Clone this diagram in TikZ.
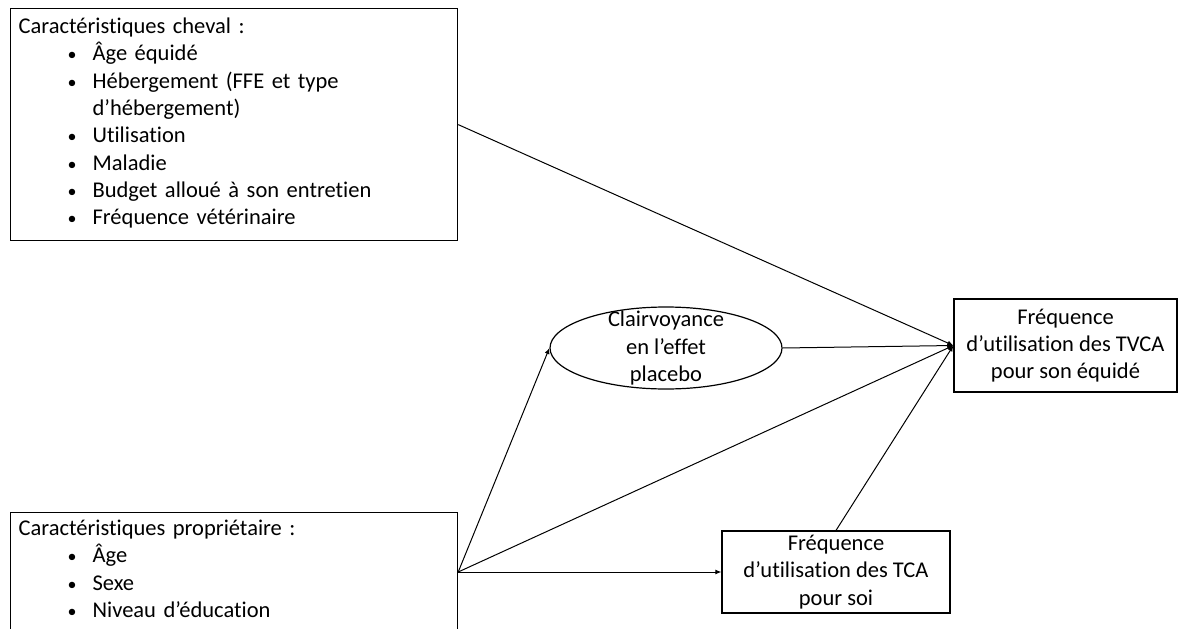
\documentclass[tikz,border=0pt]{standalone}
\usepackage{fontspec}
\setmainfont{Carlito}[Ligatures=NoCommon]
\usepackage{tikz}
\usetikzlibrary{arrows.meta,positioning,shapes.geometric,calc}
\newcommand{\puce}[1]{\\\hspace*{49pt}\makebox[25pt][l]{\scalebox{0.8}{\textbullet}}#1}
\newcommand{\suite}[1]{\\\hspace*{74pt}#1}

\begin{document}
\begin{tikzpicture}[x=1pt,y=-1pt,font=\fontsize{22.5}{27.3}\selectfont]
  \tikzset{liste/.style={draw,line width=1.2pt,anchor=north west,text width=431pt,align=left,inner xsep=8pt,inner ysep=0pt},
    boite/.style={draw,line width=1.2pt,align=center,inner sep=0pt},
    lien/.style={line width=1pt,-{Latex[length=6pt,width=5pt]}}}
  \useasboundingbox (0,0) rectangle (1178,629);
  \node[liste,text height=25pt,text depth=207pt] (cheval) at (10,8) {Caractéristiques cheval :\puce{Âge équidé}\puce{Hébergement (FFE et type}\suite{d’hébergement)}
    \puce{Utilisation}\puce{Maladie}\puce{Budget alloué à son entretien}\puce{Fréquence vétérinaire}};
  \node[liste,text height=23pt,text depth=130pt] (prop) at (10,512) {Caractéristiques propriétaire :\puce{Âge}\puce{Sexe}\puce{Niveau d’éducation}};
  \node[boite,minimum width=223pt,minimum height=93pt] (tvca) at (1065.5,345.5) {Fréquence\\d’utilisation des TVCA\\pour son équidé};
  \node[boite,minimum width=228pt,minimum height=82pt] (tca) at (836,572) {Fréquence\\d’utilisation des TCA\\pour soi};
  \node[draw,ellipse,line width=1.2pt,minimum width=232pt,minimum height=82pt] (clair) at (666,348) {};
  \node[align=center,inner sep=0pt] (claitxt) at (clair.center) {Clairvoyance\\en l’effet\\placebo};
  \coordinate (src) at (prop.east |- tca.west);
  \draw[lien] (cheval.east) -- (tvca.west);
  \draw[lien] (clair.east) -- (tvca.west);
  \draw[lien] (tca.north) -- (tvca.west);
  \draw[lien] (src) -- (tvca.west);
  \draw[lien] (src) -- (clair.west);
  \draw[lien] (src) -- (tca.west);
\end{tikzpicture}
\end{document}
